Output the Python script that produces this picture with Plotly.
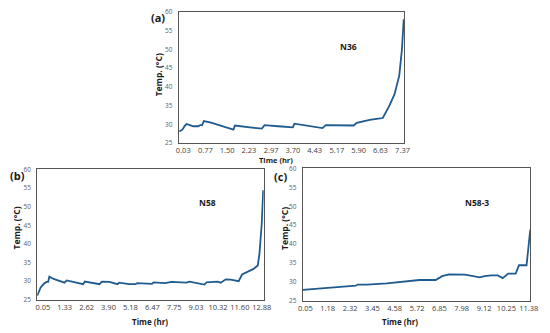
import plotly.graph_objects as go

# Panel (a) N36
a_time = [-0.10, 0.00, 0.08, 0.14, 0.25, 0.36, 0.52, 0.60, 0.66, 0.72, 0.96, 1.29, 1.56, 1.71,
          1.76, 2.10, 2.40, 2.66, 2.75, 3.20, 3.70, 3.75, 4.20, 4.69, 4.80, 5.30, 5.73, 5.84,
          6.06, 6.27, 6.50, 6.71, 6.93, 7.10, 7.26, 7.35, 7.41]
a_temp = [28.1, 28.6, 29.6, 30.1, 29.8, 29.5, 29.5, 29.8, 29.8, 30.9, 30.5, 29.7, 29.0, 28.6,
          29.7, 29.3, 29.1, 28.9, 29.8, 29.5, 29.2, 30.2, 29.6, 29.0, 29.8, 29.7, 29.7, 30.4,
          30.9, 31.2, 31.5, 31.7, 35.0, 38.0, 43.0, 50.0, 58.0]
a_ticks = [0.03, 0.77, 1.50, 2.23, 2.97, 3.70, 4.43, 5.17, 5.90, 6.63, 7.37]

# Panel (b) N58
b_time = [-0.28, -0.08, 0.11, 0.26, 0.36, 0.43, 0.68, 1.07, 1.32, 1.45, 2.22, 2.41, 2.51, 3.18,
          3.37, 3.51, 3.95, 4.43, 4.52, 5.10, 5.49, 5.58, 6.45, 6.54, 7.21, 7.60, 8.46, 8.65,
          9.33, 9.52, 9.65, 10.29, 10.48, 10.77, 11.06, 11.53, 11.73, 12.02, 12.40, 12.65,
          12.75, 12.88, 12.97]
b_temp = [26.1, 28.3, 29.3, 29.8, 29.8, 31.2, 30.6, 29.9, 29.6, 30.2, 29.4, 29.2, 29.9, 29.3,
          29.2, 29.9, 29.8, 29.2, 29.6, 29.2, 29.2, 29.5, 29.3, 29.7, 29.5, 29.8, 29.6, 29.9,
          29.3, 29.1, 29.7, 29.9, 29.6, 30.5, 30.4, 30.0, 31.8, 32.5, 33.3, 34.2,
          37.4, 45.2, 54.4]
b_ticks = [0.05, 1.33, 2.62, 3.90, 5.18, 6.47, 7.75, 9.03, 10.32, 11.60, 12.88]

# Panel (c) N58-3
c_time = [-0.08, 1.21, 2.53, 2.61, 2.70, 3.19, 4.18, 4.85, 5.84, 6.17, 6.50, 6.66, 6.99, 7.33,
          8.15, 8.48, 8.90, 9.15, 9.48, 9.81, 10.06, 10.34, 10.72, 10.89, 11.27, 11.46]
c_temp = [27.9, 28.4, 28.8, 29.0, 29.3, 29.3, 29.6, 30.0, 30.5, 30.5, 30.4, 30.5, 31.5, 32.0,
          31.9, 31.6, 31.2, 31.5, 31.7, 31.7, 31.0, 32.2, 32.2, 34.4, 34.4, 43.8]
c_ticks = [0.05, 1.18, 2.32, 3.45, 4.58, 5.72, 6.85, 7.98, 9.12, 10.25, 11.38]

y_ticks = [25, 30, 35, 40, 45, 50, 55, 60]

LINE = "#1f5b8e"
FONT = "Open Sans"
W, H = 550, 333

def px(x):
    return x / W

def py(y):
    return 1 - y / H

fig = go.Figure()
panels = [
    ("", a_time, a_temp, a_ticks, [-0.12, 7.43], [px(178), px(409)], [py(142), py(7)]),
    ("2", b_time, b_temp, b_ticks, [-0.28, 13.0], [px(33), px(265)], [py(303), py(169)]),
    ("3", c_time, c_temp, c_ticks, [-0.08, 11.46], [px(305), px(538)], [py(304), py(168)]),
]
for suf, xs, ys, ticks, xr, xd, yd in panels:
    fig.add_trace(go.Scatter(x=xs, y=ys, mode="lines", line=dict(color=LINE, width=1.8),
                             xaxis="x" + suf, yaxis="y" + suf, showlegend=False))
    fig.layout["xaxis" + suf] = dict(
        domain=xd, range=xr, anchor="y" + suf, tickvals=ticks,
        ticktext=[f"{t:.2f}" for t in ticks], showgrid=False, zeroline=False,
        showline=True, mirror=True, linecolor="#555555", linewidth=1,
        tickfont=dict(size=7.5, color="#404040", family=FONT), ticks="", ticklabelstandoff=0)
    fig.layout["yaxis" + suf] = dict(
        domain=yd, range=[25, 60], anchor="x" + suf, tickvals=y_ticks,
        showgrid=False, zeroline=False, showline=True, mirror=True,
        linecolor="#555555", linewidth=1,
        tickfont=dict(size=6.5, color="#606060", family=FONT), ticks="", ticklabelstandoff=4)

annos = [
    ("(a)", 157, 13, 11, 0), ("(b)", 13, 175, 11, 0), ("(c)", 282, 176, 11, 0),
    ("N36", 352, 43, 8.5, 0), ("N58", 207, 203, 8.5, 0), ("N58-3", 483, 203, 8.5, 0),
    ("Time (hr)", 278, 159.5, 7.5, 0), ("Time (hr)", 148, 325, 8, 0), ("Time (hr)", 405, 325, 8, 0),
    ("Temp. (°C)", 157, 72, 8.5, -90), ("Temp. (°C)", 12, 229, 8.5, -90), ("Temp. (°C)", 287, 230, 8.5, -90),
]
for text, x, y, size, ang in annos:
    fig.add_annotation(text=f"<b>{text}</b>", x=px(x), y=py(y), xref="paper", yref="paper",
                       showarrow=False, textangle=ang, xanchor="center", yanchor="middle",
                       font=dict(size=size, color="#1a1a1a", family=FONT))

fig.update_layout(width=W, height=H, margin=dict(l=0, r=0, t=0, b=0),
                  paper_bgcolor="white", plot_bgcolor="white")
fig.write_html("out.html", config={"displayModeBar": False},
               post_script="document.body.style.margin='0';document.body.style.overflow='hidden';")
